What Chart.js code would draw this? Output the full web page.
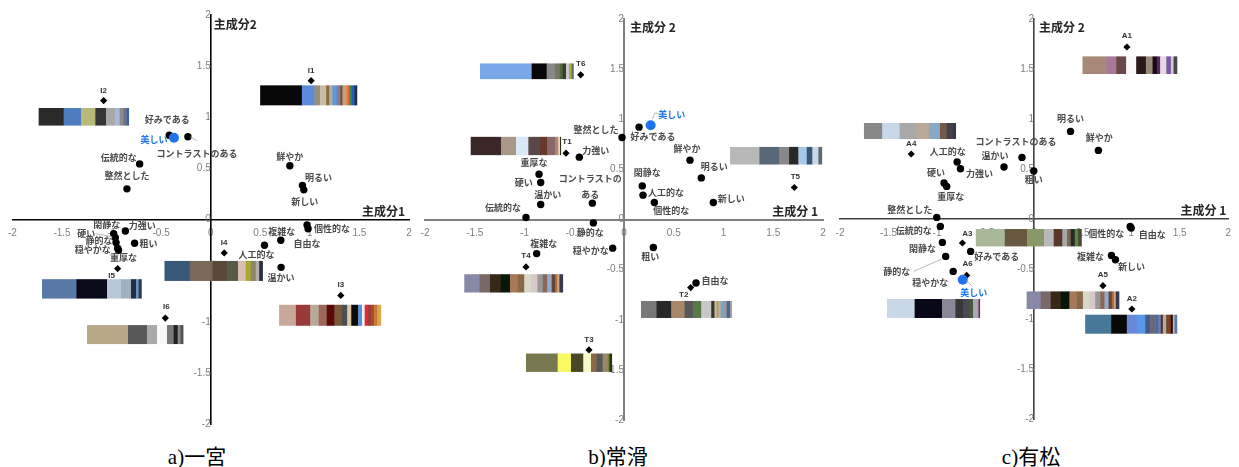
<!DOCTYPE html>
<html>
<head>
<meta charset="utf-8">
<script src="https://cdn.jsdelivr.net/npm/chart.js@4.4.1/dist/chart.umd.min.js"></script>
<style>
  body { margin: 0; background: #fff; width: 1239px; height: 467px; overflow: hidden; position: relative; }
  .box { position: absolute; top: 0; height: 440px; }
  .cap { position: absolute; top: 444px; width: 200px; text-align: center; font: 21px/26px "Liberation Serif", "Noto Sans CJK JP", serif; color: #000; }
</style>
</head>
<body>
<div class="box" style="left:0;width:420px"><canvas id="chartA"></canvas></div>
<div class="box" style="left:410px;width:425px"><canvas id="chartB"></canvas></div>
<div class="box" style="left:825px;width:414px"><canvas id="chartC"></canvas></div>
<div class="cap" style="left:97px">a)一宮</div>
<div class="cap" style="left:518px">b)常滑</div>
<div class="cap" style="left:931px">c)有松</div>
<script>
// ---- a) 一宮 ----
const aWords = ['好みである', '美しい', 'コントラストのある', '伝統的な', '整然とした', '鮮やか', '明るい', '新しい', '閑静な', '力強い',
                '硬い', '静的な', '穏やかな', '重厚な', '粗い', '個性的な', '自由な', '複雑な', '人工的な', '温かい'];
const aWordX = [-0.418, -0.371, -0.23, -0.717, -0.845, 0.798, 0.925, 0.939, -0.979, -0.861,
                -0.962, -0.955, -0.939, -0.93, -0.768, 0.972, 0.982, 0.707, 0.542, 0.71];
const aWordY = [0.824, 0.80, 0.81, 0.544, 0.30, 0.525, 0.334, 0.29, -0.139, -0.112,
                -0.178, -0.226, -0.281, -0.30, -0.232, -0.054, -0.09, -0.203, -0.252, -0.468];
const aSamples = ['I1', 'I2', 'I3', 'I4', 'I5', 'I6'];
const aSampleX = [1.013, -1.08, 1.312, 0.136, -0.939, -0.458];
const aSampleY = [1.358, 1.163, -0.743, -0.327, -0.48, -0.964];

// ---- b) 常滑 ----
const bWords = ['美しい', '好みである', '整然とした', '力強い', '重厚な', '硬い', '温かい', 'コントラストのある', '伝統的な', '閑静な',
                '人工的な', '個性的な', '鮮やか', '明るい', '新しい', '静的な', '穏やかな', '粗い', '複雑な', '自由な'];
const bWordX = [0.268, 0.151, -0.02, -0.449, -0.854, -0.837, -0.837, -0.318, -0.985, 0.184,
                0.191, 0.305, 0.663, 0.777, 0.898, -0.308, -0.114, 0.295, -0.878, 0.724];
const bWordY = [0.94, 0.921, 0.818, 0.622, 0.452, 0.369, 0.15, 0.163, 0.02, 0.335,
                0.243, 0.17, 0.592, 0.415, 0.17, -0.034, -0.286, -0.28, -0.34, -0.633];
const bSamples = ['T1', 'T2', 'T3', 'T4', 'T5', 'T6'];
const bSampleX = [-0.583, 0.67, -0.352, -0.985, 1.712, -0.435];
const bSampleY = [0.662, -0.679, -1.301, -0.473, 0.319, 1.443];

// ---- c) 有松 ----
const cWords = ['明るい', '鮮やか', 'コントラストのある', '温かい', '粗い', '人工的な', '力強い', '硬い', '重厚な', '整然とした',
                '伝統的な', '閑静な', '静的な', '穏やかな', '好みである', '美しい', '個性的な', '自由な', '複雑な', '新しい'];
const cWordX = [0.375, 0.662, -0.125, -0.31, -0.003, -0.793, -0.759, -0.928, -0.901, -1.003,
                -0.966, -0.945, -0.911, -0.834, -0.654, -0.735, 0.99, 1.0, 0.797, 0.838];
const cWordY = [0.876, 0.686, 0.616, 0.52, 0.48, 0.57, 0.503, 0.36, 0.326, 0.016,
                -0.074, -0.234, -0.374, -0.524, -0.324, -0.607, -0.074, -0.09, -0.364, -0.407];
const cSamples = ['A1', 'A2', 'A3', 'A4', 'A5', 'A6'];
const cSampleX = [0.956, 1.007, -0.739, -1.266, 0.709, -0.695];
const cSampleY = [1.72, -0.9, -0.24, 0.65, -0.667, -0.564];

const axisTicks = [-2, -1.5, -1, -0.5, 0, 0.5, 1, 1.5, 2];

// colour palettes of each sample (colour, relative width)
const palettes = {
  I1: [['#080808', 125], ['#5b8bd8', 38], ['#9c8c7a', 17], ['#cbbaa8', 18], ['#8a6a3a', 9], ['#b0a8a0', 10], ['#5a9ad8', 13], ['#8a7a90', 10],
       ['#6a5048', 7], ['#c8a080', 8], ['#d89040', 8], ['#e05858', 5], ['#3a8838', 7], ['#2060c8', 7], ['#203048', 8]],
  I2: [['#2a2a2a', 75], ['#4f7ec0', 52], ['#b8b878', 43], ['#363636', 32], ['#a8a8a8', 28], ['#a8b8d8', 13], ['#8c8c8c', 12], ['#6c7080', 8], ['#4060a0', 7]],
  I3: [['#c8a898', 50], ['#983a3a', 43], ['#b8aa9a', 25], ['#9c6658', 24], ['#5a0a0a', 23], ['#7a5838', 20], ['#4a5050', 18], ['#d8c8a8', 12],
       ['#0a0a0a', 20], ['#5890d0', 12], ['#f0f0f0', 8], ['#e02838', 10], ['#a03838', 8], ['#a05028', 10], ['#c87830', 10], ['#d8a850', 10]],
  I4: [['#375878', 75], ['#7a6858', 67], ['#5a4838', 43], ['#5a5a48', 34], ['#d8c0b0', 23], ['#a8a830', 15], ['#8a8868', 15], ['#b0b0a8', 10], ['#2a3040', 10]],
  I5: [['#5878a8', 103], ['#0a0a1a', 92], ['#b8c8d8', 42], ['#a0b0c0', 30], ['#203040', 15], ['#6890c0', 8], ['#303848', 8]],
  I6: [['#b8a888', 123], ['#585858', 57], ['#a8a8a8', 30], ['#f8f8f8', 30], ['#787878', 20], ['#202020', 12], ['#888888', 8], ['#505050', 8]],
  T1: [['#3a2828', 91], ['#a89888', 45], ['#d8e8f8', 37], ['#584848', 35], ['#683828', 22], ['#886868', 23], ['#a88878', 10], ['#f8d0b0', 5], ['#203010', 2]],
  T2: [['#787878', 47], ['#282828', 45], ['#a88868', 40], ['#585858', 26], ['#587848', 25], ['#c8c8c8', 30], ['#383828', 10], ['#c8b8a0', 7],
       ['#989888', 5], ['#d8b068', 6], ['#78a8c8', 10], ['#9898a8', 9], ['#486888', 10], ['#a0a0b0', 5]],
  T3: [['#787850', 95], ['#f8f860', 40], ['#484828', 37], ['#f8f8c8', 23], ['#886848', 17], ['#585858', 18], ['#988868', 14], ['#688838', 6], ['#382818', 7]],
  T4: [['#8888a8', 45], ['#786868', 32], ['#382818', 32], ['#081808', 28], ['#a87858', 22], ['#886848', 21], ['#d8d8c8', 20], ['#d8c8c8', 19],
       ['#989898', 16], ['#886858', 14], ['#98a8c8', 13], ['#604838', 10], ['#b86838', 7], ['#c8a888', 6], ['#383848', 10]],
  T5: [['#b8b8b8', 88], ['#586878', 60], ['#888888', 29], ['#282828', 28], ['#a8c8e8', 25], ['#385878', 17], ['#c8d8e8', 18], ['#606870', 10]],
  T6: [['#78a8e8', 155], ['#080808', 45], ['#888888', 25], ['#707860', 13], ['#506838', 10], ['#383838', 10], ['#c8c8c8', 9], ['#a8b040', 8], ['#606860', 5]],
  A1: [['#a88878', 71], ['#a87898', 30], ['#684848', 30], ['#f8f8f8', 30], ['#281818', 29], ['#988878', 20], ['#180818', 13], ['#582858', 10],
       ['#e8d8e8', 18], ['#786888', 5], ['#7858a8', 9], ['#d8c8d8', 8], ['#484848', 10]],
  A2: [['#487898', 78], ['#080808', 47], ['#6888d8', 30], ['#5898e8', 25], ['#485888', 15], ['#686878', 15], ['#4868a8', 10], ['#7878a0', 7],
       ['#383838', 6], ['#c8a888', 10], ['#604838', 7], ['#883818', 7], ['#201008', 6], ['#c8b8a8', 5], ['#5878a8', 7]],
  A3: [['#a8b898', 87], ['#685840', 67], ['#889868', 51], ['#b8b8b8', 29], ['#583828', 26], ['#a8a8a8', 14], ['#786858', 11], ['#282828', 12], ['#588838', 10], ['#484838', 10]],
  A4: [['#888888', 55], ['#c8d8e8', 52], ['#a8a8a8', 48], ['#b8a898', 40], ['#88a8c8', 33], ['#785848', 19], ['#484048', 20], ['#383848', 8]],
  A5: [['#8888a8', 45], ['#786868', 32], ['#382818', 32], ['#081808', 28], ['#a87858', 22], ['#886848', 21], ['#d8d8c8', 20], ['#d8c8c8', 19],
       ['#989898', 16], ['#886858', 14], ['#98a8c8', 13], ['#604838', 10], ['#b86838', 7], ['#c8a888', 6], ['#383848', 10]],
  A6: [['#c8d8e8', 83], ['#080818', 82], ['#888898', 40], ['#383838', 23], ['#484858', 17], ['#485838', 13], ['#a8a8b8', 13], ['#8898b8', 4], ['#a01818', 3]]
};

// where labels / swatches sit around their points (pixel offsets)
const layoutA = {
  axis: '#000', axisW: 1.6, pad: {left: 12, right: 11, top: 14, bottom: 16},
  yTitle: '主成分2', xTitle: '主成分1', yTitleOff: [3, 9], xTitleOff: [-4, -8],
  labels: {
    '好みである': [-2, -16], '美しい': [-20, 2], 'コントラストのある': [9, 17, [[2, 0], [9, 4]]], '伝統的な': [-21, -6], '整然とした': [0, -13],
    '鮮やか': [0, -9], '明るい': [16, -8], '新しい': [1, 12], '閑静な': [-7, -9], '力強い': [17, -5],
    '硬い': [-29, -4, [[-20, -4], [-3, -1]]], '静的な': [-17, -2], '穏やかな': [-25, 1], '重厚な': [5, 7.5], '粗い': [14, 0],
    '個性的な': [25, 4], '自由な': [-1, 15], '複雑な': [1, -9], '人工的な': [-8, 9], '温かい': [0, 10]
  },
  tags: {I1: [0, -10], I2: [0, -10], I3: [0, -11], I4: [0, -10], I5: [-6, 7], I6: [1, -11]},
  swatch: {I1: [-51, 4.7, 96.7, 20], I2: [-65, 7.4, 90, 17.6], I3: [-61.7, 9.3, 101.7, 21], I4: [-59.7, 8, 98, 20], I5: [-75.6, 10.6, 99.3, 19.4], I6: [-78.3, 7, 96, 19]}
};
const layoutB = {
  axis: '#7f7f7f', axisW: 2, pad: {left: 15, right: 12, top: 19, bottom: 20},
  yTitle: '主成分 2', xTitle: '主成分 1', yTitleOff: [6, 8], xTitleOff: [-5, -8],
  labels: {
    '美しい': [21, -11, [[2, -6], [4, -12], [8, -12]]], '好みである': [14, 9], '整然とした': [-26, -8], '力強い': [16.5, -7], '重厚な': [-5, -12],
    '硬い': [-17, 0], '温かい': [7, -10], 'コントラストのある': [-2, -24.7, null, ['コントラストの', 'ある']], '伝統的な': [-23, -10], '閑静な': [5, -13],
    '人工的な': [23, -3], '個性的な': [17, 8], '鮮やか': [-3, -12], '明るい': [13, -11], '新しい': [18, -4],
    '静的な': [-3, 10], '穏やかな': [-22, 2], '粗い': [-3, 9], '複雑な': [7, -10], '自由な': [19, -2]
  },
  tags: {T1: [1, -11], T2: [-7, 7], T3: [0, -10], T4: [0, -11], T5: [1, -11], T6: [0, -11]},
  swatch: {T1: [-95.3, -16.3, 90, 18.3], T2: [-49.7, 13.4, 90.7, 17], T3: [-63, 3.6, 85.7, 18.4], T4: [-61.7, 7.3, 98.4, 18.3], T5: [-64.3, -40.6, 91.7, 17.6], T6: [-100.7, -11.4, 93.3, 15.7]}
};
const layoutC = {
  axis: '#404040', axisW: 1.6, pad: {left: 15, right: 4, top: 19, bottom: 21},
  yTitle: '主成分 2', xTitle: '主成分 1', yTitleOff: [5, 8], xTitleOff: [-2, -9],
  labels: {
    '明るい': [0, -13], '鮮やか': [1, -13], 'コントラストのある': [-6, -16], '温かい': [-9, -11], '粗い': [0, 9],
    '人工的な': [-9.5, -10], '力強い': [19, 5], '硬い': [-8, -10], '重厚な': [4, 10], '整然とした': [-27, -8],
    '伝統的な': [-26.5, 4], '閑静な': [-20, 6], '静的な': [-49, 15, [[-32, 15], [-4, 2.6]]], '穏やかな': [-23, 11], '好みである': [26, 5],
    '美しい': [11, 13, [[3.6, 1], [10, 7]]], '個性的な': [-24, 7], '自由な': [21, 7], '複雑な': [-21, 1], '新しい': [16, 7]
  },
  tags: {A1: [0, -11], A2: [0, -10], A3: [5, -9], A4: [0, -10], A5: [0, -11], A6: [1, -12]},
  swatch: {A1: [-44.4, 9.4, 94.4, 17.6], A2: [-46.7, 5.7, 91.7, 19], A3: [13.4, -14, 105.6, 17.4], A4: [-47.3, -31, 91.7, 16], A5: [-76.3, 5.7, 92.3, 17.6], A6: [-79.7, 23.6, 92.7, 19]}
};

const BLUE = '#1f74ee';
const labelFont = 'bold 9px "Noto Sans CJK JP", sans-serif';

const marks = {
  id: 'marks',
  afterDatasetsDraw(chart) {
    const lay = chart.options.plugins.marks.lay;
    const ctx = chart.ctx;
    const words = chart.data.datasets[0].names;
    const samples = chart.data.datasets[1].names;
    const wMeta = chart.getDatasetMeta(0);
    const sMeta = chart.getDatasetMeta(1);
    ctx.save();

    // colour swatches
    sMeta.data.forEach((pt, i) => {
      const p = lay.swatch[samples[i]];
      const pal = palettes[samples[i]];
      const total = pal.reduce((s, c) => s + c[1], 0);
      let x = pt.x + p[0];
      pal.forEach(c => {
        const w = p[2] * c[1] / total;
        ctx.fillStyle = c[0];
        ctx.fillRect(x, pt.y + p[1], w + 0.4, p[3]);
        x += w;
      });
    });

    // sample tags
    ctx.textAlign = 'center';
    ctx.textBaseline = 'middle';
    ctx.font = 'bold 8px "Liberation Sans", sans-serif';
    ctx.fillStyle = '#333';
    sMeta.data.forEach((pt, i) => {
      const o = lay.tags[samples[i]];
      ctx.fillText(samples[i], pt.x + o[0], pt.y + o[1]);
    });

    // word labels
    ctx.font = labelFont;
    wMeta.data.forEach((pt, i) => {
      const o = lay.labels[words[i]];
      if (o[2]) {
        ctx.strokeStyle = '#a6a6a6';
        ctx.lineWidth = 0.8;
        ctx.beginPath();
        o[2].forEach((q, k) => k ? ctx.lineTo(pt.x + q[0], pt.y + q[1]) : ctx.moveTo(pt.x + q[0], pt.y + q[1]));
        ctx.stroke();
      }
      ctx.fillStyle = words[i] === '美しい' ? BLUE : '#4a4a4a';
      const lines = o[3] || [words[i]];
      lines.forEach((t, k) => ctx.fillText(t, pt.x + o[0], pt.y + o[1] + k * 15.7));
    });

    // axis titles
    const xs = chart.scales.x, ys = chart.scales.y;
    ctx.font = 'bold 12px "Noto Sans CJK JP", sans-serif';
    ctx.fillStyle = '#262626';
    ctx.textAlign = 'left';
    ctx.fillText(lay.yTitle, xs.getPixelForValue(0) + lay.yTitleOff[0], ys.getPixelForValue(2) + lay.yTitleOff[1]);
    ctx.textAlign = 'right';
    ctx.fillText(lay.xTitle, xs.getPixelForValue(2) + lay.xTitleOff[0], ys.getPixelForValue(0) + lay.xTitleOff[1]);
    ctx.restore();
  }
};

function scaleOpts(lay, pos, pad) {
  return {
    type: 'linear', min: -2, max: 2, position: pos,
    afterBuildTicks: s => { s.ticks = axisTicks.map(v => ({value: v})); },
    ticks: {autoSkip: false, padding: pad, color: '#808080', font: {family: '"Liberation Sans", Arial', size: 10},
            callback: v => String(v)},
    grid: {display: false, drawTicks: false},
    border: {display: true, color: lay.axis, width: lay.axisW}
  };
}

function makeChart(id, words, wx, wy, samples, sx, sy, lay) {
  return new Chart(document.getElementById(id), {
    type: 'scatter',
    data: {
      datasets: [{
        names: words,
        data: words.map((w, i) => ({x: wx[i], y: wy[i]})),
        pointStyle: 'circle',
        pointRadius: c => words[c.dataIndex] === '美しい' ? 5 : 3.7,
        backgroundColor: c => words[c.dataIndex] === '美しい' ? BLUE : '#000',
        borderWidth: 0
      }, {
        names: samples,
        data: samples.map((s, i) => ({x: sx[i], y: sy[i]})),
        pointStyle: 'rectRot',
        pointRadius: 3.6,
        backgroundColor: '#000',
        borderWidth: 0
      }]
    },
    options: {
      responsive: true,
      maintainAspectRatio: false,
      animation: false,
      events: [],
      layout: {padding: lay.pad},
      plugins: {legend: {display: false}, tooltip: {enabled: false}, marks: {lay: lay}},
      scales: {
        x: scaleOpts(lay, {y: 0}, 8),
        y: scaleOpts(lay, {x: 0}, 9)
      }
    },
    plugins: [marks]
  });
}

const chartA = makeChart('chartA', aWords, aWordX, aWordY, aSamples, aSampleX, aSampleY, layoutA);
const chartB = makeChart('chartB', bWords, bWordX, bWordY, bSamples, bSampleX, bSampleY, layoutB);
const chartC = makeChart('chartC', cWords, cWordX, cWordY, cSamples, cSampleX, cSampleY, layoutC);
</script>
</body>
</html>
